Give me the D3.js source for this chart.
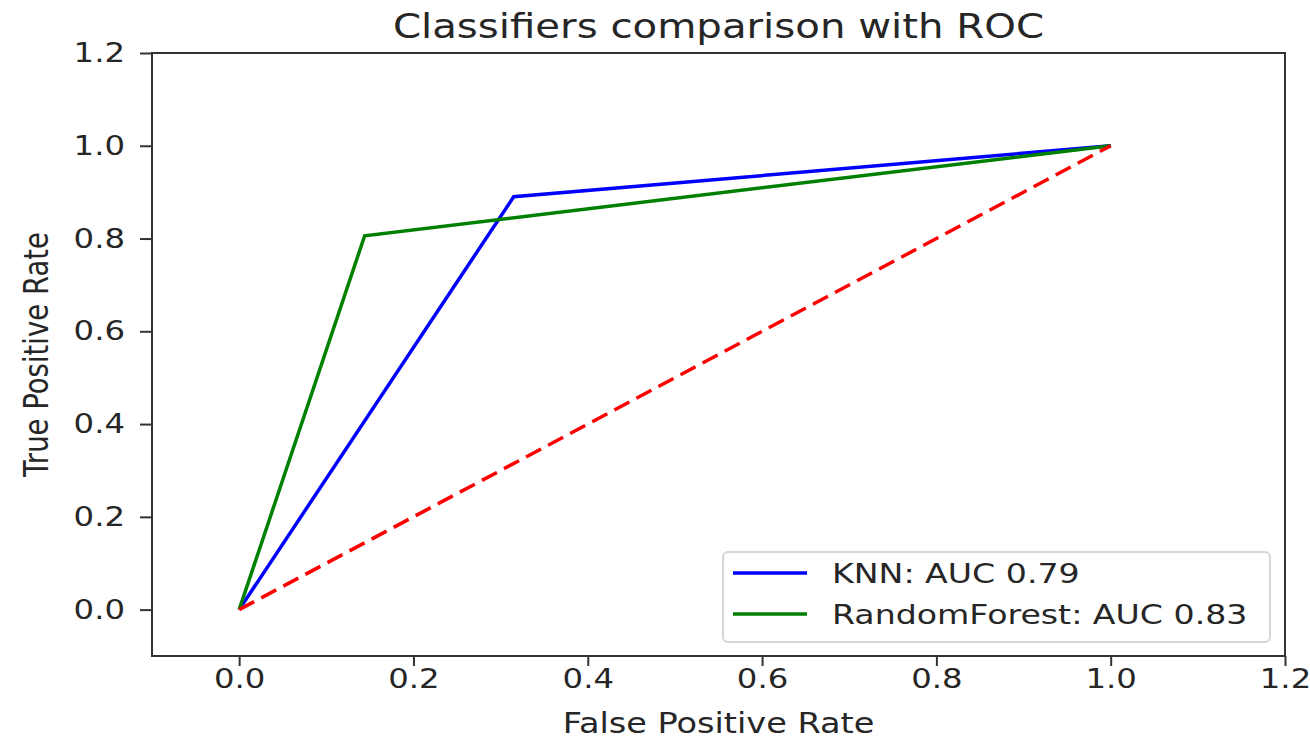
<!DOCTYPE html>
<html>
<head>
<meta charset="utf-8">
<script src="https://cdn.jsdelivr.net/npm/d3@7"></script>
<style>
  body { margin: 0; background: #fff; }
  text { font-family: "DejaVu Sans", sans-serif; fill: #262626; }
</style>
</head>
<body>
<svg id="chart" width="1310" height="743"></svg>
<script>
// data
var knnFpr = [0, 0.315, 1];
var knnTpr = [0, 0.89, 1];
var rfFpr = [0, 0.144, 1];
var rfTpr = [0, 0.806, 1];
var chanceFpr = [0, 1];
var chanceTpr = [0, 1];
var seriesLabels = ['KNN: AUC 0.79', 'RandomForest: AUC 0.83'];
var tickValues = [0, 0.2, 0.4, 0.6, 0.8, 1.0, 1.2];

var sx = 1.22; // picture is stretched sideways
var plotLeft = 152, plotRight = 1285, plotTop = 53, plotBottom = 656;

var svg = d3.select('#chart');

var x = d3.scaleLinear().domain([-0.1, 1.2]).range([plotLeft, plotRight]);
var y = d3.scaleLinear().domain([-0.1, 1.2]).range([plotBottom, plotTop]);

function pts(xs, ys) {
  return xs.map(function(d, i) { return [d, ys[i]]; });
}

var line = d3.line()
  .x(function(d) { return x(d[0]); })
  .y(function(d) { return y(d[1]); });

var g = svg.append('g');

g.append('path')
  .attr('d', line(pts(knnFpr, knnTpr)))
  .attr('fill', 'none')
  .attr('stroke', '#0000ff')
  .attr('stroke-width', 3.5);

g.append('path')
  .attr('d', line(pts(rfFpr, rfTpr)))
  .attr('fill', 'none')
  .attr('stroke', '#008000')
  .attr('stroke-width', 3.5);

g.append('path')
  .attr('d', line(pts(chanceFpr, chanceTpr)))
  .attr('fill', 'none')
  .attr('stroke', '#ff0000')
  .attr('stroke-width', 3.5)
  .attr('stroke-dasharray', '17,8');

// axes
var xAxis = svg.append('g')
  .attr('transform', 'translate(0,' + plotBottom + ')')
  .call(d3.axisBottom(x).tickValues(tickValues).tickFormat(d3.format('.1f')).tickSize(10).tickPadding(4));

var yAxis = svg.append('g')
  .attr('transform', 'translate(' + plotLeft + ',0)')
  .call(d3.axisLeft(y).tickValues(tickValues).tickFormat(d3.format('.1f')).tickSize(12));

[xAxis, yAxis].forEach(function(ax) {
  ax.select('.domain').remove();
  ax.selectAll('line').attr('stroke', '#333').attr('stroke-width', 2);
  ax.selectAll('text')
    .style('font-family', '"DejaVu Sans", sans-serif')
    .style('font-size', '26.5px')
    .attr('fill', '#262626');
});

xAxis.selectAll('text').attr('y', 13).attr('dy', '0.71em').attr('transform', 'scale(' + sx + ',1)');
yAxis.selectAll('text').attr('x', -27 / sx).attr('transform', 'scale(' + sx + ',1)');

// frame
svg.append('rect')
  .attr('x', plotLeft).attr('y', plotTop)
  .attr('width', plotRight - plotLeft).attr('height', plotBottom - plotTop)
  .attr('fill', 'none')
  .attr('stroke', '#333')
  .attr('stroke-width', 2);

// title and labels
svg.append('text')
  .attr('transform', 'translate(' + ((plotLeft + plotRight) / 2) + ',38) scale(' + sx + ',1)')
  .attr('text-anchor', 'middle')
  .style('font-size', '33px')
  .text('Classifiers comparison with ROC');

svg.append('text')
  .attr('transform', 'translate(' + ((plotLeft + plotRight) / 2) + ',733) scale(' + sx + ',1)')
  .attr('text-anchor', 'middle')
  .style('font-size', '27.5px')
  .text('False Positive Rate');

svg.append('text')
  .attr('transform', 'translate(48,' + ((plotTop + plotBottom) / 2) + ') scale(' + sx + ',1) rotate(-90)')
  .attr('text-anchor', 'middle')
  .style('font-size', '27.5px')
  .text('True Positive Rate');

// legend
var legend = svg.append('g');
legend.append('rect')
  .attr('x', 723).attr('y', 552)
  .attr('width', 547).attr('height', 90)
  .attr('rx', 5)
  .attr('fill', '#fff')
  .attr('fill-opacity', 0.8)
  .attr('stroke', '#d6d6d6')
  .attr('stroke-width', 2);

var colors = ['#0000ff', '#008000'];
var items = legend.selectAll('.legend')
  .data(seriesLabels)
  .enter()
  .append('g')
  .attr('class', 'legend')
  .attr('transform', function(d, i) { return 'translate(733,' + (573 + i * 41) + ')'; });

items.append('line')
  .attr('x1', 0).attr('x2', 74)
  .attr('stroke', function(d, i) { return colors[i]; })
  .attr('stroke-width', 3.5);

items.append('text')
  .attr('transform', 'translate(99,0) scale(' + sx + ',1)')
  .attr('dy', '0.36em')
  .style('font-size', '27.2px')
  .text(function(d) { return d; });
</script>
</body>
</html>
